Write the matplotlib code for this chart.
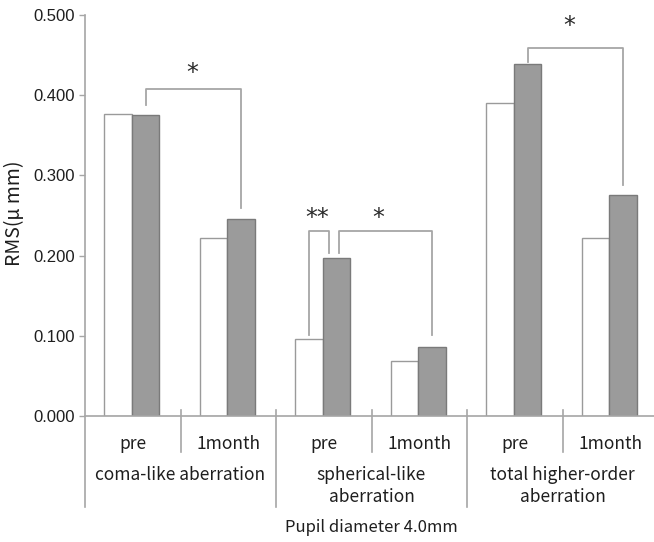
import matplotlib
matplotlib.use("Agg")
import matplotlib.pyplot as plt
import numpy as np

groups = ["coma-like aberration", "spherical-like\naberration", "total higher-order\naberration"]
timepoints = ["pre", "1month"]
# per group: [pre, 1month]
white_vals = [[0.377, 0.222], [0.096, 0.069], [0.390, 0.222]]
gray_vals = [[0.375, 0.246], [0.197, 0.086], [0.439, 0.276]]
y_ticks = [0.0, 0.1, 0.2, 0.3, 0.4, 0.5]
y_label = "RMS(μ mm)"
x_title = "Pupil diameter 4.0mm"

CJK = ["Noto Sans CJK JP", "DejaVu Sans"]
NUM = ["Liberation Sans", "DejaVu Sans"]
LINE = "#a6a6a6"
TXT = "#1e1e1e"

fig = plt.figure(figsize=(6.54, 5.42), dpi=100)
H = 542.0
W = 654.0
ax = fig.add_axes([85 / W, (H - 416) / H, (658 - 85) / W, (416 - 15) / H])
ax.set_xlim(0, 6)
ax.set_ylim(0, 0.5)

white = np.array(white_vals).ravel()
gray = np.array(gray_vals).ravel()
slots = np.arange(len(white))
bw = 0.29
ax.bar(slots + 0.2, white, width=bw, align="edge", color="white",
       edgecolor="#9a9a9a", linewidth=1.0, zorder=2)
ax.bar(slots + 0.49, gray, width=bw, align="edge", color="#9b9b9b",
       edgecolor="#7a7a7a", linewidth=1.0, zorder=2)

for s in ["top", "right", "bottom", "left"]:
    ax.spines[s].set_visible(False)
ax.set_xticks([])
ax.set_yticks(y_ticks)
ax.set_yticklabels([f"{v:.3f}" for v in y_ticks], fontfamily=NUM, fontsize=12, color=TXT)
ax.tick_params(axis="y", length=4, width=1, color=LINE, pad=3)

xt = ax.get_xaxis_transform()
# baseline
ax.plot([0, 6], [0, 0], color=LINE, lw=1.2, clip_on=False, zorder=3)
# left spine, extended below
ax.plot([0, 0], [-91 / 401, 1.0], color=LINE, lw=1.2, transform=xt, clip_on=False)
# separators
for x in [1, 3, 5]:
    ax.plot([x, x], [6 / 401, -36 / 401], color=LINE, lw=1.2, transform=xt, clip_on=False)
for x in [2, 4, 6]:
    ax.plot([x, x], [6 / 401, -91 / 401], color=LINE, lw=1.2, transform=xt, clip_on=False)

# labels
for g in range(3):
    for t, lab in enumerate(timepoints):
        ax.text(2 * g + t + 0.5, -28 / 401, lab, transform=xt, ha="center", va="center",
                fontfamily=CJK, fontsize=12.5, color=TXT)
    ax.text(2 * g + 1, -50 / 401, groups[g], transform=xt, ha="center", va="top",
            fontfamily=CJK, fontsize=12.5, color=TXT, linespacing=1.3)

ax.text(3, -111 / 401, x_title, transform=xt, ha="center", va="center",
        fontfamily=CJK, fontsize=12, color=TXT)
fig.text(15 / W, (H - 213) / H, y_label, rotation=90, ha="center", va="center",
         fontfamily=CJK, fontsize=14, color=TXT)

# significance brackets
def bracket(x1, x2, top, b1, b2, star, sx, sy):
    ax.plot([x1, x1, x2, x2], [b1, top, top, b2], color=LINE, lw=1.3, clip_on=False, zorder=3)
    ax.text(sx, sy, star, ha="center", va="center", fontfamily="DejaVu Sans",
            fontsize=17, color="#2a2a2a")

gc = 0.49 + bw / 2
wc = 0.2 + bw / 2
bracket(0 + gc, 1 + gc, 0.408, 0.388, 0.259, "*", 1.12, 0.428)
bracket(2 + wc, 2.555, 0.231, 0.101, 0.203, "**", 2.43, 0.247)
bracket(2.66, 3 + gc, 0.231, 0.203, 0.101, "*", 3.07, 0.247)
bracket(4 + gc, 5 + gc, 0.459, 0.441, 0.288, "*", 5.07, 0.486)

fig.savefig("out.png", dpi=100, facecolor="white")
